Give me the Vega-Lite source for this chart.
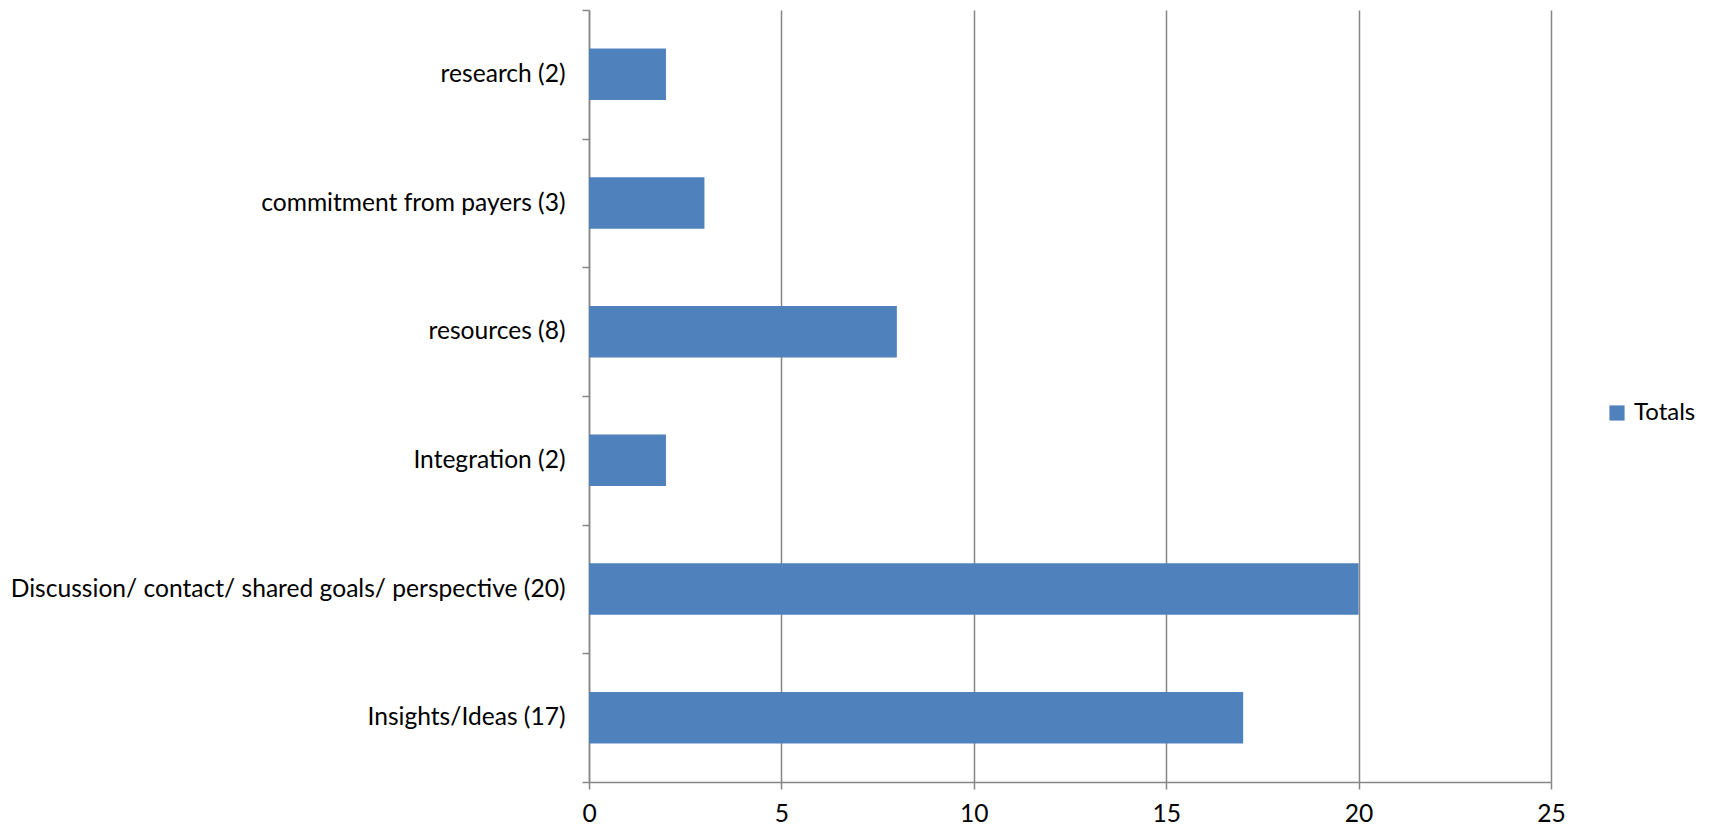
{
  "$schema": "https://vega.github.io/schema/vega-lite/v6.json",
  "width": 962,
  "height": 772,
  "autosize": {"type": "none"},
  "padding": {"left": 589, "top": 10, "right": 158, "bottom": 47},
  "background": "white",
  "config": {
    "view": {"stroke": null},
    "font": "Lato"
  },
  "data": {
    "values": [
      {"category": "research (2)", "value": 2, "series": "Totals"},
      {"category": "commitment from payers (3)", "value": 3, "series": "Totals"},
      {"category": "resources (8)", "value": 8, "series": "Totals"},
      {"category": "Integration (2)", "value": 2, "series": "Totals"},
      {"category": "Discussion/ contact/ shared goals/ perspective (20)", "value": 20, "series": "Totals"},
      {"category": "Insights/Ideas (17)", "value": 17, "series": "Totals"}
    ]
  },
  "mark": {"type": "bar", "height": {"band": 0.4}},
  "encoding": {
    "y": {
      "field": "category",
      "type": "nominal",
      "sort": null,
      "scale": {"paddingInner": 0, "paddingOuter": 0},
      "axis": {
        "title": null,
        "labelFontSize": 24.6,
        "labelColor": "#000000",
        "labelPadding": 17,
        "labelLimit": 800,
        "domainColor": "#868686",
        "domainWidth": 1.5,
        "tickColor": "#868686",
        "tickWidth": 1.5,
        "tickSize": 7,
        "tickBand": "extent",
        "grid": false
      }
    },
    "x": {
      "field": "value",
      "type": "quantitative",
      "scale": {"domain": [0, 25], "nice": false},
      "axis": {
        "title": null,
        "values": [0, 5, 10, 15, 20, 25],
        "labelFlush": false,
        "labelFontSize": 24.6,
        "labelColor": "#000000",
        "labelPadding": 13,
        "domainColor": "#868686",
        "domainWidth": 1.5,
        "tickColor": "#868686",
        "tickWidth": 1.5,
        "tickSize": 7,
        "grid": true,
        "gridColor": "#868686",
        "gridWidth": 1.5,
        "gridOpacity": 1
      }
    },
    "color": {
      "field": "series",
      "type": "nominal",
      "scale": {"range": ["#4F81BD"]},
      "legend": {
        "title": null,
        "orient": "none",
        "legendX": 1016,
        "legendY": 391,
        "symbolType": "square",
        "symbolSize": 230,
        "symbolStrokeWidth": 0,
        "labelFontSize": 24,
        "labelColor": "#000000",
        "labelOffset": 5
      }
    }
  }
}
